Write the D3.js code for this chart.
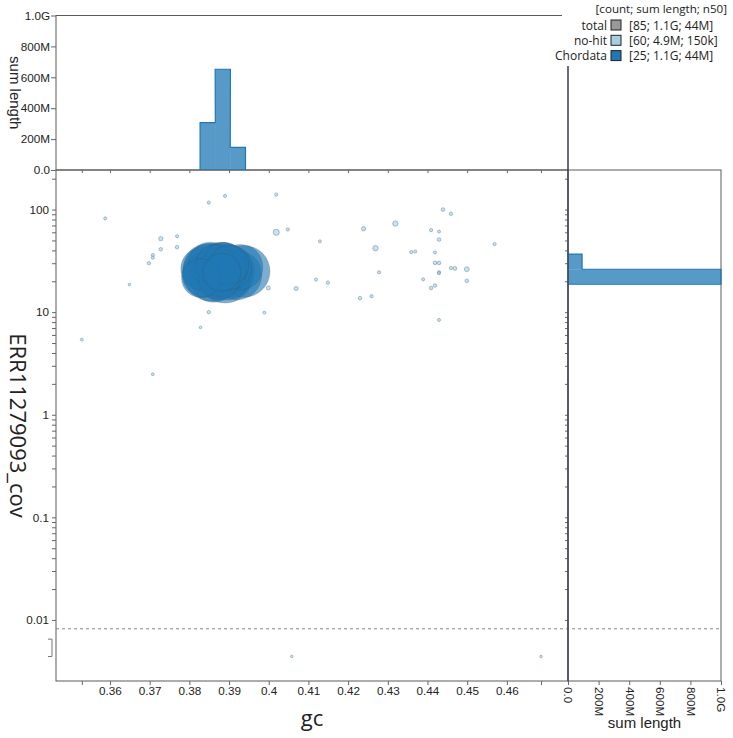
<!DOCTYPE html>
<html>
<head>
<meta charset="utf-8">
<script src="https://cdn.jsdelivr.net/npm/d3@7"></script>
<style>
  body { margin: 0; background: #fff; }
  svg text { font-family: "Liberation Sans", Arial, sans-serif; fill: #222; }
  .legend text, .title { font-family: "Open Sans", sans-serif; }
</style>
</head>
<body>
<script>
// Chordata contigs (gc, coverage, length)
var chordGc  = [0.3856, 0.3846, 0.3861, 0.3838, 0.3833, 0.3852, 0.3829,
                0.3890, 0.3880, 0.3898, 0.3872, 0.3885, 0.3895, 0.3868, 0.3902,
                0.3878, 0.3888, 0.3875, 0.3893, 0.3866, 0.3900, 0.3882,
                0.3938, 0.3920, 0.3928];
var chordCov = [24.5, 27, 21, 23, 26.5, 30, 21.5,
                23, 26, 25, 24, 28, 22, 26, 27,
                23, 30, 21, 25.5, 29, 29, 24.5,
                25, 23, 27.5];
var chordLen = [70e6, 48e6, 44e6, 40e6, 38e6, 36e6, 30e6,
                65e6, 62e6, 58e6, 52e6, 46e6, 43e6, 41e6, 39e6,
                37e6, 35e6, 34e6, 33e6, 32e6, 31e6, 29e6,
                55e6, 50e6, 42e6];

// no-hit contigs (coverage 0 = no reads)
var nohitGc  = [0.3588, 0.3890, 0.3849, 0.4019, 0.3728, 0.3769, 0.4019, 0.4048, 0.4129, 0.3728,
                0.3769, 0.3708, 0.3708, 0.3698, 0.3649, 0.3999, 0.3999, 0.4069, 0.4119, 0.4149,
                0.3849, 0.3989, 0.3828, 0.3529, 0.4239, 0.4319, 0.4269, 0.4278, 0.4230, 0.4259,
                0.4439, 0.4459, 0.4409, 0.4429, 0.4429, 0.4359, 0.4369, 0.4419, 0.4419, 0.4429,
                0.4429, 0.4429, 0.4459, 0.4469, 0.4499, 0.4389, 0.4499, 0.4409, 0.4419, 0.4429,
                0.4569, 0.3708, 0.4058, 0.4686];
var nohitCov = [82, 136, 117, 140, 52, 55, 60, 64, 49, 41,
                43, 36, 34, 30, 18.6, 27, 17.2, 17, 20.8, 19.4,
                10, 9.9, 7.1, 5.4, 65, 73, 42, 24.5, 13.7, 14.3,
                100, 91, 63, 61, 51, 38.5, 39, 38.2, 30.2, 30.2,
                24.5, 24, 26.9, 26.7, 26.2, 20.9, 20.2, 17.2, 18.2, 8.4,
                46, 2.48, 0, 0];
var nohitLen = [25e3, 30e3, 30e3, 35e3, 120e3, 25e3, 380e3, 35e3, 25e3, 50e3,
                50e3, 30e3, 30e3, 40e3, 8e3, 8e3, 90e3, 100e3, 25e3, 45e3,
                40e3, 20e3, 8e3, 20e3, 120e3, 250e3, 250e3, 30e3, 50e3, 40e3,
                60e3, 50e3, 35e3, 25e3, 60e3, 30e3, 30e3, 25e3, 60e3, 60e3,
                30e3, 25e3, 40e3, 80e3, 180e3, 25e3, 60e3, 60e3, 50e3, 25e3,
                30e3, 15e3, 8e3, 8e3];

// gc histogram (top)
var gcBinStart = [0.3827, 0.3865, 0.3903];
var gcBinWidth = 0.00384;
var gcBinLen   = [306e6, 652e6, 147e6];

// coverage histogram (right)
var covBinLow  = [18.7, 26.2];
var covBinHigh = [26.2, 36.8];
var covBinLen  = [1.0e9, 92e6];

var gcTicks = [0.36, 0.37, 0.38, 0.39, 0.40, 0.41, 0.42, 0.43, 0.44, 0.45, 0.46];
var covFloor = 0.0082;   // dashed line: below are zero-coverage contigs
var zeroCov = 0.0044;    // where zero-coverage contigs are placed

var legendNames  = ["total", "no-hit", "Chordata"];
var legendValues = ["[85; 1.1G; 44M]", "[60; 4.9M; 150k]", "[25; 1.1G; 44M]"];
var legendColors = ["#999999", "#a6cee3", "#1f78b4"];

var width = 733, height = 738;
var svg = d3.select('body').append('svg')
  .attr('width', width)
  .attr('height', height);

var x = d3.scaleLinear().domain([0.3464, 0.4754]).range([56, 568]);
var y = d3.scaleLog().domain([0.00254, 243]).range([681, 170]);
var yTop = d3.scaleLinear().domain([0, 1e9]).range([170, 15.5]);
var xRight = d3.scaleLinear().domain([0, 1e9]).range([568, 721]);
var r = d3.scaleSqrt().domain([0, 70e6]).range([1, 29]);

var lineCol = '#5a5a5a';

// frames
function frame(x0, y0, x1, y1) {
  svg.append('rect')
    .attr('x', x0).attr('y', y0)
    .attr('width', x1 - x0).attr('height', y1 - y0)
    .attr('fill', 'none').attr('stroke', lineCol).attr('stroke-width', 1);
}
frame(x.range()[0], yTop.range()[1], x.range()[1], yTop.range()[0]);
frame(x.range()[0], y.range()[1], x.range()[1], y.range()[0]);
frame(xRight.range()[0], y.range()[1], xRight.range()[1], y.range()[0]);

// top histogram: filled bins + one step outline
svg.append('g').selectAll('rect')
  .data(gcBinStart)
  .enter().append('rect')
  .attr('x', d => x(d))
  .attr('width', d => x(d + gcBinWidth) - x(d))
  .attr('y', (d, i) => yTop(gcBinLen[i]))
  .attr('height', (d, i) => yTop(0) - yTop(gcBinLen[i]))
  .attr('fill', '#1f78b4').attr('fill-opacity', 0.75);

var topOutline = [[gcBinStart[0], 0]];
gcBinStart.forEach((s, i) => {
  topOutline.push([s, gcBinLen[i]], [s + gcBinWidth, gcBinLen[i]]);
});
topOutline.push([gcBinStart[gcBinStart.length - 1] + gcBinWidth, 0]);
svg.append('path')
  .attr('d', d3.line().x(d => x(d[0])).y(d => yTop(d[1]))(topOutline))
  .attr('fill', 'none').attr('stroke', '#1f78b4').attr('stroke-width', 1.2);

// right histogram
svg.append('g').selectAll('rect')
  .data(covBinLow)
  .enter().append('rect')
  .attr('x', xRight(0))
  .attr('width', (d, i) => xRight(covBinLen[i]) - xRight(0))
  .attr('y', (d, i) => y(covBinHigh[i]))
  .attr('height', (d, i) => y(d) - y(covBinHigh[i]))
  .attr('fill', '#1f78b4').attr('fill-opacity', 0.75);

var rightOutline = [[0, covBinLow[0]]];
covBinLow.forEach((lo, i) => {
  rightOutline.push([covBinLen[i], lo], [covBinLen[i], covBinHigh[i]]);
});
rightOutline.push([0, covBinHigh[covBinHigh.length - 1]]);
svg.append('path')
  .attr('d', d3.line().x(d => xRight(d[0])).y(d => y(d[1]))(rightOutline))
  .attr('fill', 'none').attr('stroke', '#1f78b4').attr('stroke-width', 1.2);

// points
var pts = [];
chordGc.forEach((g, i) => pts.push({gc: g, cov: chordCov[i], len: chordLen[i], cat: 'Chordata'}));
nohitGc.forEach((g, i) => pts.push({gc: g, cov: nohitCov[i], len: nohitLen[i], cat: 'no-hit'}));
pts.sort((a, b) => b.len - a.len);

svg.append('g').selectAll('circle')
  .data(pts)
  .enter().append('circle')
  .attr('cx', d => x(d.gc))
  .attr('cy', d => d.cov > 0 ? y(d.cov) : y(zeroCov))
  .attr('r', d => r(d.len))
  .attr('fill', d => d.cat == 'Chordata' ? '#1f78b4' : '#a6cee3')
  .attr('fill-opacity', 0.6)
  .attr('stroke', d => d.cat == 'Chordata' ? '#444' : '#6d8fa8')
  .attr('stroke-opacity', d => d.cat == 'Chordata' ? 0.25 : 0.7)
  .attr('stroke-width', 0.8);

// zero coverage line and bracket
svg.append('line')
  .attr('x1', x.range()[0]).attr('x2', xRight.range()[1])
  .attr('y1', y(covFloor)).attr('y2', y(covFloor))
  .attr('stroke', '#888').attr('stroke-dasharray', '3,3');
svg.append('path')
  .attr('d', 'M48,' + y(0.0065) + 'H52V' + y(zeroCov) + 'H48')
  .attr('fill', 'none').attr('stroke', '#777');

// axes
var gcExtent = d3.extent(nohitGc.concat(chordGc));
var gcAllTicks = gcTicks.concat(gcExtent);
var fmtGc = d => gcTicks.indexOf(d) >= 0 ? String(+d.toFixed(2)) : '';

function styleAxis(g) {
  g.select('.domain').remove();
  g.selectAll('line').attr('stroke', '#666');
  g.selectAll('text').style('font-size', '11.7px').attr('fill', '#222');
}

svg.append('g')
  .attr('transform', 'translate(0,' + y.range()[0] + ')')
  .call(d3.axisBottom(x).tickValues(gcAllTicks).tickFormat(fmtGc).tickSize(4).tickPadding(2))
  .call(styleAxis);

svg.append('g')
  .attr('transform', 'translate(0,' + y.range()[1] + ')')
  .call(d3.axisBottom(x).tickValues(gcAllTicks).tickFormat('').tickSize(3))
  .call(styleAxis);

var covTicks = y.ticks().filter(d => d >= 0.0099);
var isPow10 = d => Math.abs(Math.log10(d) - Math.round(Math.log10(d))) < 1e-6;

svg.append('g')
  .attr('transform', 'translate(' + x.range()[0] + ',0)')
  .call(d3.axisLeft(y).tickValues(covTicks)
    .tickFormat(d => isPow10(d) ? d3.format('~g')(d) : '')
    .tickSize(4).tickPadding(3))
  .call(styleAxis);

svg.append('g')
  .attr('transform', 'translate(' + xRight.range()[0] + ',0)')
  .call(d3.axisLeft(y).tickValues(covTicks).tickFormat('').tickSize(3))
  .call(styleAxis);

svg.append('g')
  .attr('transform', 'translate(' + x.range()[0] + ',0)')
  .call(d3.axisLeft(yTop).ticks(5).tickFormat(d3.format('.2s')).tickSize(5).tickPadding(1))
  .call(styleAxis);

var rightAxis = svg.append('g')
  .attr('transform', 'translate(0,' + y.range()[0] + ')')
  .call(d3.axisBottom(xRight).ticks(5).tickFormat(d3.format('.2s')).tickSize(4))
  .call(styleAxis);
rightAxis.selectAll('text')
  .attr('transform', 'rotate(90)')
  .attr('x', 6).attr('y', 0).attr('dy', '0.35em')
  .style('text-anchor', 'start');

// the shared edge between main plot and right histogram is darker
svg.append('line')
  .attr('x1', xRight.range()[0]).attr('x2', xRight.range()[0])
  .attr('y1', yTop.range()[1]).attr('y2', y.range()[0])
  .attr('stroke', '#3a3f55').attr('stroke-width', 1.2);

// axis titles
svg.append('text').attr('class', 'title')
  .attr('x', (x.range()[0] + x.range()[1]) / 2).attr('y', 726)
  .attr('text-anchor', 'middle')
  .style('font-size', '22px')
  .text('gc');

svg.append('text').attr('class', 'title')
  .attr('transform', 'translate(10,' + (y.range()[0] + y.range()[1]) / 2 + ') rotate(90)')
  .attr('text-anchor', 'middle')
  .style('font-size', '22px')
  .text('ERR11279093_cov');

svg.append('text')
  .attr('transform', 'translate(10,' + (yTop.range()[0] + yTop.range()[1]) / 2 + ') rotate(90)')
  .attr('text-anchor', 'middle')
  .style('font-size', '15px')
  .text('sum length');

svg.append('text')
  .attr('x', (xRight.range()[0] + xRight.range()[1]) / 2).attr('y', 728)
  .attr('text-anchor', 'middle')
  .style('font-size', '15px')
  .text('sum length');

// legend (white box hides the frame corner behind it)
var legend = svg.append('g').attr('class', 'legend');
legend.append('rect')
  .attr('x', 562).attr('y', 0).attr('width', 171).attr('height', 66)
  .attr('fill', '#fff');
legend.append('text')
  .attr('x', 727).attr('y', 13)
  .attr('text-anchor', 'end')
  .style('font-size', '11.6px')
  .text('[count; sum length; n50]');
var rows = legend.selectAll('g.row')
  .data(legendNames)
  .enter().append('g').attr('class', 'row')
  .attr('transform', (d, i) => 'translate(0,' + (29.5 + i * 15.3) + ')');
rows.append('text')
  .attr('x', 607).attr('text-anchor', 'end')
  .style('font-size', '12px')
  .text(d => d);
rows.append('rect')
  .attr('x', 611).attr('y', -9.5).attr('width', 10).attr('height', 10)
  .attr('fill', (d, i) => legendColors[i])
  .attr('stroke', '#222');
rows.append('text')
  .attr('x', 629)
  .style('font-size', '12px')
  .text((d, i) => legendValues[i]);
</script>
</body>
</html>
